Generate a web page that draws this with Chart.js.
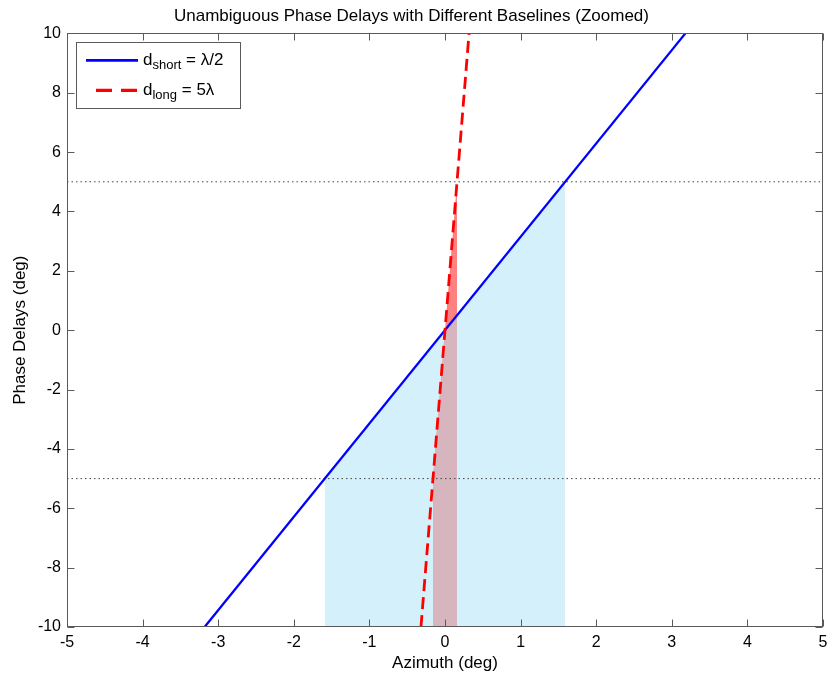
<!DOCTYPE html>
<html>
<head>
<meta charset="utf-8">
<script src="https://cdn.jsdelivr.net/npm/chart.js@4/dist/chart.umd.min.js"></script>
<style>
  html, body { margin: 0; padding: 0; background: #fff; }
  #wrap { width: 830px; height: 676px; }
</style>
</head>
<body>
<div id="wrap"><canvas id="c" width="830" height="676"></canvas></div>
<script>
const titleText = 'Unambiguous Phase Delays with Different Baselines (Zoomed)';
const xTitle = 'Azimuth (deg)';
const yTitle = 'Phase Delays (deg)';
const xTicks = [-5, -4, -3, -2, -1, 0, 1, 2, 3, 4, 5];
const yTicks = [-10, -8, -6, -4, -2, 0, 2, 4, 6, 8, 10];

// short baseline (d = λ/2): phase delay against azimuth
const shortAz = [-3.18, 3.18];
const shortPhase = [-10, 10];
// long baseline (d = 5λ)
const longAz = [-0.318, 0.318];
const longPhase = [-10, 10];
// ±5 deg phase thresholds
const limitAz = [-5, 5];
const upperLimit = [5, 5];
const lowerLimit = [-5, -5];
// unambiguous azimuth span of each baseline
const shortSpanAz = [-1.59, 1.59];
const shortSpanPhase = [-5, 5];
const longSpanAz = [-0.159, 0.159];
const longSpanPhase = [-5, 5];
// part of the long-baseline span lying beneath the short-baseline curve
const overlapAz = [-0.159, 0, 0.159];
const overlapPhase = [-5, 0, 0.5];

// legend entries: symbol, subscript, value
const legendNames = ['d', 'd'];
const legendSubs = ['short', 'long'];
const legendValues = [' = λ/2', ' = 5λ'];

const FONT = '"Liberation Sans", Arial, Helvetica, sans-serif';
const pts = (xs, ys) => xs.map((x, i) => ({ x, y: ys[i] }));

const base = { showLine: true, pointRadius: 0, pointHoverRadius: 0, tension: 0 };

const datasets = [
  Object.assign({}, base, { label: 'd_short', data: pts(shortAz, shortPhase),
    borderColor: '#0000ff', borderWidth: 2.3, fill: false, order: 2 }),
  Object.assign({}, base, { label: 'd_long', data: pts(longAz, longPhase),
    borderColor: '#ff0000', borderWidth: 2.8, borderDash: [12, 6], fill: false, order: 1 }),
  Object.assign({}, base, { label: 'upper', data: pts(limitAz, upperLimit),
    borderColor: '#444444', borderWidth: 1, borderDash: [1.5, 3], fill: false, order: 3 }),
  Object.assign({}, base, { label: 'lower', data: pts(limitAz, lowerLimit),
    borderColor: '#444444', borderWidth: 1, borderDash: [1.5, 3], fill: false, order: 3 }),
  Object.assign({}, base, { label: 'overlap', data: pts(overlapAz, overlapPhase),
    borderWidth: 0, borderColor: 'rgba(0,0,0,0)', backgroundColor: '#d6b5bf', fill: 'start', order: 4 }),
  Object.assign({}, base, { label: 'longSpan', data: pts(longSpanAz, longSpanPhase),
    borderWidth: 0, borderColor: 'rgba(0,0,0,0)', backgroundColor: '#ff8282', fill: 'start', order: 5 }),
  Object.assign({}, base, { label: 'shortSpan', data: pts(shortSpanAz, shortSpanPhase),
    borderWidth: 0, borderColor: 'rgba(0,0,0,0)', backgroundColor: '#d4f1fb', fill: 'start', order: 6 })
];

// axes box with inward tick marks on all four sides
const framePlugin = {
  id: 'frame',
  afterDatasetsDraw(chart) {
    const { ctx, chartArea: a, scales: { x, y } } = chart;
    const L = Math.round(a.left) + 0.5, R = Math.round(a.right) - 0.5;
    const T = Math.round(a.top) + 0.5, B = Math.round(a.bottom) - 0.5;
    const len = 7;
    ctx.save();
    ctx.strokeStyle = '#5a5a5a';
    ctx.lineWidth = 1;
    ctx.setLineDash([]);
    ctx.beginPath();
    x.ticks.forEach(t => {
      const px = Math.round(x.getPixelForValue(t.value)) + 0.5;
      ctx.moveTo(px, B); ctx.lineTo(px, B - len);
      ctx.moveTo(px, T); ctx.lineTo(px, T + len);
    });
    y.ticks.forEach(t => {
      const py = Math.round(y.getPixelForValue(t.value)) + 0.5;
      ctx.moveTo(L, py); ctx.lineTo(L + len, py);
      ctx.moveTo(R, py); ctx.lineTo(R - len, py);
    });
    ctx.stroke();
    ctx.strokeRect(L, T, R - L, B - T);
    ctx.restore();
  }
};

// boxed legend with subscripted labels
const legendPlugin = {
  id: 'subLegend',
  afterDraw(chart) {
    const { ctx, chartArea: a } = chart;
    const bx = a.left + 9, by = a.top + 9, bw = 164, bh = 66;
    ctx.save();
    ctx.fillStyle = '#fff';
    ctx.fillRect(bx, by, bw, bh);
    ctx.strokeStyle = '#5a5a5a';
    ctx.lineWidth = 1;
    ctx.strokeRect(Math.round(bx) + 0.5, Math.round(by) + 0.5, bw, bh);
    [0, 1].forEach(i => {
      const ds = chart.data.datasets[i];
      const cy = by + 18 + i * 30;
      ctx.strokeStyle = ds.borderColor;
      ctx.lineWidth = ds.borderWidth + 0.4;
      if (ds.borderDash) {
        ctx.setLineDash([16, 9]);
        ctx.beginPath(); ctx.moveTo(bx + 20, cy); ctx.lineTo(bx + 62, cy); ctx.stroke();
      } else {
        ctx.setLineDash([]);
        ctx.beginPath(); ctx.moveTo(bx + 10, cy); ctx.lineTo(bx + 62, cy); ctx.stroke();
      }
      ctx.setLineDash([]);
      ctx.fillStyle = '#000';
      ctx.textBaseline = 'alphabetic';
      ctx.textAlign = 'left';
      let tx = bx + 67;
      const baseY = cy + 5;
      ctx.font = '17px ' + FONT;
      ctx.fillText(legendNames[i], tx, baseY);
      tx += ctx.measureText(legendNames[i]).width;
      ctx.font = '13px ' + FONT;
      ctx.fillText(legendSubs[i], tx, baseY + 4);
      tx += ctx.measureText(legendSubs[i]).width;
      ctx.font = '17px ' + FONT;
      ctx.fillText(legendValues[i], tx, baseY);
    });
    ctx.restore();
  }
};

new Chart(document.getElementById('c'), {
  type: 'scatter',
  data: { datasets },
  plugins: [framePlugin, legendPlugin],
  options: {
    responsive: false,
    animation: false,
    events: [],
    layout: { padding: { left: 0, right: 7, top: 0, bottom: 0 } },
    plugins: {
      legend: { display: false },
      tooltip: { enabled: false },
      title: {
        display: true, text: titleText, color: '#000',
        font: { family: FONT, size: 17, weight: 'normal' },
        padding: { top: 6, bottom: 7 }
      }
    },
    scales: {
      x: {
        type: 'linear', min: -5, max: 5,
        grid: { display: false, drawTicks: false },
        border: { display: false },
        afterBuildTicks: s => { s.ticks = xTicks.map(v => ({ value: v })); },
        afterFit: s => { s.height = 49; s.paddingLeft = 0; s.paddingRight = 0; },
        ticks: { color: '#000', font: { family: FONT, size: 16 }, padding: 6,
                 autoSkip: false, maxRotation: 0, callback: v => String(v) },
        title: { display: true, text: xTitle, color: '#000',
                 font: { family: FONT, size: 17 }, padding: { top: 0, bottom: 2 } }
      },
      y: {
        type: 'linear', min: -10, max: 10,
        grid: { display: false, drawTicks: false },
        border: { display: false },
        afterBuildTicks: s => { s.ticks = yTicks.map(v => ({ value: v })); },
        afterFit: s => { s.width = 67; s.paddingTop = 0; s.paddingBottom = 0; },
        ticks: { color: '#000', font: { family: FONT, size: 16 }, padding: 6,
                 autoSkip: false, callback: v => String(v) },
        title: { display: true, text: yTitle, color: '#000',
                 font: { family: FONT, size: 17 }, padding: { top: 10, bottom: 0 } }
      }
    }
  }
});
</script>
</body>
</html>
